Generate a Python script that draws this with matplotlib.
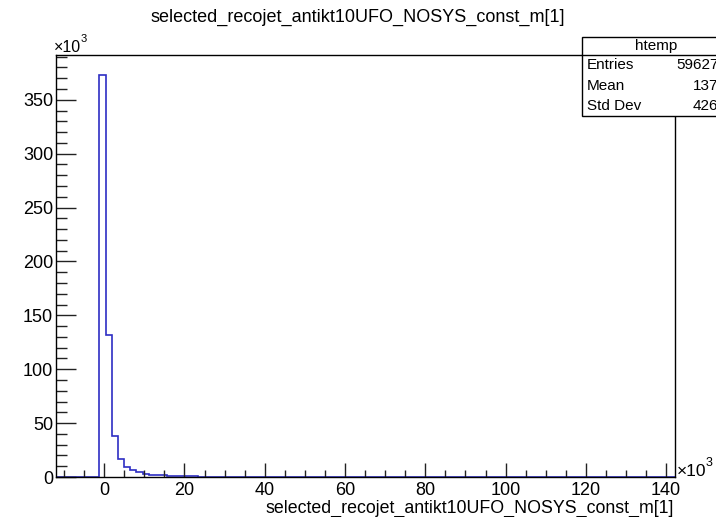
import numpy as np
import matplotlib
matplotlib.use("Agg")
import matplotlib.pyplot as plt
from matplotlib.ticker import MultipleLocator
from matplotlib.patches import Rectangle
from matplotlib.lines import Line2D

plt.rcParams['font.family'] = ['Liberation Sans', 'DejaVu Sans']

# ---- data (x in units of 10^3, counts raw) ----
title_text = "selected_recojet_antikt10UFO_NOSYS_const_m[1]"
xlabel_text = "selected_recojet_antikt10UFO_NOSYS_const_m[1]"
hist_xmin = -12.0
hist_xmax = 142.2
n_bins = 100
first_filled_bin = 7
bin_counts = [373000, 131500, 38000, 16500, 9500, 6500, 4300, 3000, 2300, 1800,
              1400, 1100, 900, 700, 600, 500, 400, 300, 250]
stat_names = ["Entries", "Mean", "Std Dev"]
stat_values = ["596274", "1376", "4262"]
hist_name = "htemp"
y_max = 391.5

W, H = 716, 517
fig = plt.figure(figsize=(W / 100, H / 100), dpi=100)


def fx(px):
    return px / W


def fy(py):
    return 1 - py / H


ax = fig.add_axes([fx(56), fy(477), (675 - 56) / W, (477 - 55) / H])

edges = np.linspace(hist_xmin, hist_xmax, n_bins + 1)
full = np.zeros(n_bins)
full[first_filled_bin:first_filled_bin + len(bin_counts)] = bin_counts
ax.stairs(full / 1000.0, edges, color='#2e2ec4', lw=1.2)

ax.set_xlim(hist_xmin, hist_xmax)
ax.set_ylim(0, y_max)
ax.xaxis.set_major_locator(MultipleLocator(20))
ax.xaxis.set_minor_locator(MultipleLocator(5))
ax.yaxis.set_major_locator(MultipleLocator(50))
ax.yaxis.set_minor_locator(MultipleLocator(10))
ax.tick_params(which='both', direction='in', top=False, right=False, width=1, color='#222222')
ax.tick_params(axis='x', which='major', length=10, pad=3.5, labelsize=13)
ax.tick_params(axis='x', which='minor', length=5)
ax.tick_params(axis='y', which='major', length=14.4, pad=2, labelsize=13)
ax.tick_params(axis='y', which='minor', length=7.7)
for s in ax.spines.values():
    s.set_linewidth(1)

# title
fig.text(0.5, fy(17), title_text, ha='center', va='center', fontsize=13)
# x label
fig.text(fx(674), fy(508), xlabel_text, ha='right', va='center', fontsize=12.8)

# exponent labels
fig.text(fx(54), fy(47), "×10", ha='left', va='center', fontsize=11.5)
fig.text(fx(81), fy(39), "3", ha='left', va='center', fontsize=8)
fig.text(fx(677), fy(471), "×10", ha='left', va='center', fontsize=12.5)
fig.text(fx(706), fy(463), "3", ha='left', va='center', fontsize=9)

# stats box
box_left, box_top, box_bottom, header_line = 582, 37, 116, 55
box_right = 740
fig.patches.append(Rectangle((fx(box_left), fy(box_bottom)), (box_right - box_left) / W,
                             (box_bottom - box_top) / H, transform=fig.transFigure,
                             facecolor='white', edgecolor='black', lw=1, zorder=5))
fig.lines.append(Line2D([fx(box_left), fx(box_right)], [fy(header_line), fy(header_line)],
                        transform=fig.transFigure, color='black', lw=1, zorder=6))
fig.text(fx((box_left + 716 + 14) / 2), fy((box_top + header_line) / 2), hist_name,
         ha='center', va='center', fontsize=11, zorder=7)
row_h = (box_bottom - header_line) / 3
for i, (n, v) in enumerate(zip(stat_names, stat_values)):
    yc = header_line + row_h * (i + 0.5)
    fig.text(fx(587), fy(yc), n, ha='left', va='center', fontsize=11, zorder=7)
    fig.text(fx(727), fy(yc), v, ha='right', va='center', fontsize=11, zorder=7)

fig.savefig("out.png", dpi=100)
